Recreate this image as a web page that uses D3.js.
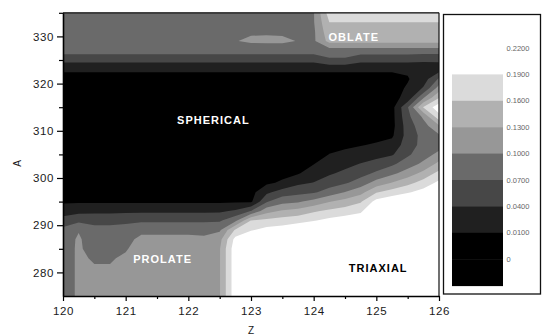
<!DOCTYPE html>
<html>
<head>
<meta charset="utf-8">
<script src="https://cdn.jsdelivr.net/npm/d3@7"></script>
<style>
  html, body { margin: 0; padding: 0; background: #fff; }
  svg { display: block; font-family: "Liberation Sans", Arial, sans-serif; }
</style>
</head>
<body>
<svg id="chart" width="542" height="335"></svg>
<script>
// Grid of the mapped quantity: one array per Z column, values listed from A = 275 upward in steps of 2
const zColumns = [120, 120.25, 120.5, 120.75, 121, 121.25, 121.5, 121.75, 122, 122.25, 122.5, 122.75,
                  123, 123.25, 123.5, 123.75, 124, 124.25, 124.5, 124.75, 125, 125.25, 125.5, 125.75, 126];
const aRows = [275, 277, 279, 281, 283, 285, 287, 289, 291, 293, 295, 297, 299, 301, 303, 305,
               307, 309, 311, 313, 315, 317, 319, 321, 323, 325, 327, 329, 331, 333, 335];

const surfaceByZ = [
  /* 120.00 */ [.085,.085,.085,.085,.085,.085,.085,.079,.051,.027,.006, 0,0,0,0,0,0,0,0,0,0,0,0,0, .014,.049,.084,.085,.085,.085,.085],
  /* 120.25 */ [.105,.105,.105,.105,.105,.105,.104,.098,.062,.031,.006, 0,0,0,0,0,0,0,0,0,0,0,0,0, .014,.049,.084,.085,.085,.085,.085],
  /* 120.50 */ [.105,.105,.105,.102,.097,.086,.083,.080,.060,.033,.006, 0,0,0,0,0,0,0,0,0,0,0,0,0, .014,.049,.084,.085,.085,.085,.085],
  /* 120.75 */ [.105,.105,.105,.102,.097,.088,.085,.080,.060,.033,.006, 0,0,0,0,0,0,0,0,0,0,0,0,0, .014,.049,.084,.085,.085,.085,.085],
  /* 121.00 */ [.110,.110,.110,.110,.105,.097,.090,.082,.063,.034,.006, 0,0,0,0,0,0,0,0,0,0,0,0,0, .014,.049,.084,.085,.085,.085,.085],
  /* 121.25 */ [.115,.115,.115,.115,.115,.115,.108,.092,.065,.034,.006, 0,0,0,0,0,0,0,0,0,0,0,0,0, .014,.049,.084,.085,.085,.085,.085],
  /* 121.50 */ [.115,.115,.115,.115,.115,.115,.108,.092,.065,.034,.006, 0,0,0,0,0,0,0,0,0,0,0,0,0, .014,.049,.084,.085,.085,.085,.085],
  /* 121.75 */ [.115,.115,.115,.115,.115,.115,.108,.092,.065,.034,.006, 0,0,0,0,0,0,0,0,0,0,0,0,0, .014,.049,.084,.085,.085,.085,.085],
  /* 122.00 */ [.115,.115,.115,.115,.115,.115,.108,.092,.065,.034,.006, 0,0,0,0,0,0,0,0,0,0,0,0,0, .014,.049,.084,.085,.085,.085,.085],
  /* 122.25 */ [.115,.115,.115,.115,.115,.115,.106,.090,.065,.034,.006, 0,0,0,0,0,0,0,0,0,0,0,0,0, .014,.049,.084,.085,.085,.085,.085],
  /* 122.50 */ [.128,.128,.128,.128,.128,.128,.120,.095,.066,.035,.006, 0,0,0,0,0,0,0,0,0,0,0,0,0, .014,.049,.084,.085,.085,.085,.085],
  /* 122.75 */ [.210,.210,.210,.210,.210,.210,.200,.164,.0925,.044,.006, 0,0,0,0,0,0,0,0,0,0,0,0,0, .014,.049,.084,.099,.090,.085,.085],
  /* 123.00 */ [.220,.220,.220,.220,.220,.220,.220,.187,.161,.071,.005, 0,0,0,0,0,0,0,0,0,0,0,0,0, .014,.049,.084,.104,.097,.085,.085],
  /* 123.25 */ [.220,.220,.220,.220,.220,.220,.220,.200,.167,.119,.067,.034,.004, 0,0,0,0,0,0,0,0,0,0,0, .014,.049,.084,.105,.097,.085,.085],
  /* 123.50 */ [.220,.220,.220,.220,.220,.220,.220,.205,.173,.134,.090,.053,.015, 0,0,0,0,0,0,0,0,0,0,0, .014,.049,.084,.105,.096,.085,.085],
  /* 123.75 */ [.220,.220,.220,.220,.220,.220,.220,.215,.179,.141,.096,.060,.0335,.0074, 0,0,0,0,0,0,0,0,0,0, .014,.049,.084,.099,.090,.085,.085],
  /* 124.00 */ [.220,.220,.220,.220,.220,.220,.220,.220,.188,.156,.110,.066,.041,.0246,.009, 0,0,0,0,0,0,0,0,0, .014,.049,.084,.095,.095,.098,.098],
  /* 124.25 */ [.220,.220,.220,.220,.220,.220,.220,.220,.198,.166,.128,.083,.055,.036,.0234,.0106, 0,0,0,0,0,0,0,0, .014,.065,.085,.140,.150,.160,.175],
  /* 124.50 */ [.225,.225,.225,.225,.225,.225,.225,.225,.205,.175,.141,.101,.066,.0468,.0311,.0175,.004, 0,0,0,0,0,0,0, .014,.065,.085,.140,.150,.160,.175],
  /* 124.75 */ [.225,.225,.225,.225,.225,.225,.225,.225,.212,.1845,.1565,.120,.0833,.0588,.041,.0242,.0084, 0,0,0,0,0,0,0, .014,.049,.085,.140,.150,.160,.175],
  /* 125.00 */ [.225,.225,.225,.225,.225,.225,.225,.225,.225,.225,.2007,.1577,.1115,.075,.0504,.0306,.0134, 0,0,0,0,0,0,0, .014,.049,.085,.140,.150,.160,.175],
  /* 125.25 */ [.225,.225,.225,.225,.225,.225,.225,.225,.225,.225,.216,.173,.131,.0929,.064,.0368,.021,.0053, 0,0,0,0,0,0, .014,.049,.085,.140,.150,.160,.175],
  /* 125.50 */ [.225,.225,.225,.225,.225,.225,.225,.225,.225,.225,.225,.1865,.150,.1133,.085,.065,.055,.052,.055,.062,.068,.020,.013,.008, .014,.049,.085,.140,.150,.160,.175],
  /* 125.75 */ [.230,.230,.230,.230,.230,.230,.230,.230,.230,.230,.230,.202,.172,.139,.106,.088,.080,.080,.088,.105,.162,.0975,.043,.025, .020,.045,.085,.140,.150,.160,.175],
  /* 126.00 */ [.230,.230,.230,.230,.230,.230,.230,.230,.230,.230,.230,.224,.197,.1695,.138,.1075,.088,.096,.125,.179,.210,.159,.114,.074, .025,.045,.085,.140,.150,.160,.175]
];

// Contour levels and their fills (first colour is everything below the lowest level)
const thresholds = [0.01, 0.04, 0.07, 0.10, 0.13, 0.16, 0.19];
const bandColors = ["#000000", "#202020", "#474747", "#6a6a6a", "#979797", "#b1b1b1", "#dbdbdb", "#ffffff"];

// Colour-scale labels, top to bottom
const legendLabels = ["0.2200", "0.1900", "0.1600", "0.1300", "0.1000", "0.0700", "0.0400", "0.0100", "0"];

// Axis ticks
const zTicks = [120, 121, 122, 123, 124, 125, 126];
const zMinor = [120.5, 121.5, 122.5, 123.5, 124.5, 125.5];
const aTicks = [280, 290, 300, 310, 320, 330];
const aMinor = [285, 295, 305, 315, 325, 335];

// Region names placed in (Z, A) coordinates
const regionNames = [
  { text: "OBLATE",    z: 124.64, a: 329.9, color: "#ffffff" },
  { text: "SPHERICAL", z: 122.40, a: 312.2, color: "#ffffff" },
  { text: "PROLATE",   z: 121.59, a: 282.9, color: "#ffffff" },
  { text: "TRIAXIAL",  z: 125.03, a: 281.0, color: "#000000" }
];

const svg = d3.select("#chart");
const plot = { left: 63, right: 439, top: 12.8, bottom: 296 };

const x = d3.scaleLinear().domain([120, 126]).range([plot.left, plot.right]);
const y = d3.scaleLinear().domain([275, 335]).range([plot.bottom, plot.top]);

// Flatten the column arrays into the row-major grid d3.contours expects
const nz = zColumns.length, na = aRows.length;
const values = new Array(nz * na);
for (let j = 0; j < na; j++) {
  for (let i = 0; i < nz; i++) values[i + j * nz] = surfaceByZ[i][j];
}

// Grid index -> data coordinate (samples sit at cell centres in contour space)
const colToZ = d3.scaleLinear().domain(d3.range(nz)).range(zColumns).clamp(true);
const rowToA = d3.scaleLinear().domain(d3.range(na)).range(aRows).clamp(true);
const gridPath = d3.geoPath(d3.geoTransform({
  point(px, py) { this.stream.point(x(colToZ(px - 0.5)), y(rowToA(py - 0.5))); }
}));

const bands = d3.contours().size([nz, na]).thresholds(thresholds)(values);

svg.append("clipPath").attr("id", "plot-clip")
  .append("rect")
  .attr("x", plot.left).attr("y", plot.top)
  .attr("width", plot.right - plot.left).attr("height", plot.bottom - plot.top);

const field = svg.append("g").attr("clip-path", "url(#plot-clip)");
field.append("rect")
  .attr("x", plot.left).attr("y", plot.top)
  .attr("width", plot.right - plot.left).attr("height", plot.bottom - plot.top)
  .attr("fill", bandColors[0]);
field.selectAll("path.band")
  .data(bands)
  .join("path")
  .attr("class", "band")
  .attr("d", gridPath)
  .attr("fill", (d, i) => bandColors[i + 1]);

// Region names
svg.append("g").selectAll("text")
  .data(regionNames)
  .join("text")
  .attr("x", d => x(d.z))
  .attr("y", d => y(d.a))
  .attr("dy", "0.36em")
  .attr("text-anchor", "middle")
  .attr("fill", d => d.color)
  .attr("font-size", 11)
  .attr("font-weight", "bold")
  .attr("letter-spacing", "1px")
  .text(d => d.text);

// Frame: top and right edges
svg.append("line").attr("x1", plot.left).attr("x2", plot.right).attr("y1", plot.top).attr("y2", plot.top)
  .attr("stroke", "#111").attr("stroke-width", 1.2);
svg.append("line").attr("x1", plot.right).attr("x2", plot.right).attr("y1", plot.top).attr("y2", plot.bottom)
  .attr("stroke", "#111").attr("stroke-width", 1.2);

function styleAxis(g) {
  g.select(".domain").attr("stroke", "#000").attr("stroke-width", 1.6);
  g.selectAll(".tick line").attr("stroke", "#000").attr("stroke-width", 1.2);
  g.selectAll(".tick text").attr("fill", "#1a1a1a").attr("font-size", 11.5)
    .attr("letter-spacing", "0.6px").attr("font-family", "'Liberation Sans', Arial, sans-serif");
}

// Minor ticks first, majors on top
svg.append("g").attr("transform", `translate(${plot.left},0)`)
  .call(d3.axisLeft(y).tickValues(aMinor).tickSize(4).tickSizeOuter(0).tickFormat(""))
  .call(g => g.select(".domain").remove())
  .call(g => g.selectAll(".tick line").attr("stroke", "#000").attr("stroke-width", 1.2));
svg.append("g").attr("transform", `translate(0,${plot.bottom})`)
  .call(d3.axisBottom(x).tickValues(zMinor).tickSize(3).tickSizeOuter(0).tickFormat(""))
  .call(g => g.select(".domain").remove())
  .call(g => g.selectAll(".tick line").attr("stroke", "#000").attr("stroke-width", 1.2));

svg.append("g").attr("transform", `translate(${plot.left},0)`)
  .call(d3.axisLeft(y).tickValues(aTicks).tickSize(6).tickSizeOuter(0).tickPadding(3).tickFormat(d3.format("d")))
  .call(styleAxis);
svg.append("g").attr("transform", `translate(0,${plot.bottom})`)
  .call(d3.axisBottom(x).tickValues(zTicks).tickSize(5).tickSizeOuter(0).tickPadding(6).tickFormat(d3.format("d")))
  .call(styleAxis);

// Axis titles
svg.append("text").attr("x", x(123)).attr("y", 334)
  .attr("text-anchor", "middle").attr("font-size", 10).attr("fill", "#1a1a1a").text("Z");
svg.append("text").attr("transform", "translate(21,163.5) rotate(-90)")
  .attr("text-anchor", "middle").attr("font-size", 10).attr("fill", "#1a1a1a").text("A");

// Colour scale
const legend = svg.append("g");
legend.append("rect").attr("x", 443.5).attr("y", 14.5).attr("width", 97).attr("height", 279.5)
  .attr("fill", "#fff").attr("stroke", "#111").attr("stroke-width", 1.3);

const ly = d3.scalePoint().domain(legendLabels).range([48, 259.2]);
const step = ly.step();
legend.selectAll("rect.key")
  .data(legendLabels)
  .join("rect")
  .attr("class", "key")
  .attr("x", 452).attr("width", 51)
  .attr("y", d => ly(d))
  .attr("height", step + 0.5)
  .attr("fill", (d, i) => bandColors[Math.max(0, bandColors.length - 1 - i)]);

legend.selectAll("text")
  .data(legendLabels)
  .join("text")
  .attr("x", 506.5)
  .attr("y", d => ly(d))
  .attr("dy", "0.35em")
  .attr("font-size", 7.5)
  .attr("fill", "#666")
  .text(d => d);
</script>
</body>
</html>
